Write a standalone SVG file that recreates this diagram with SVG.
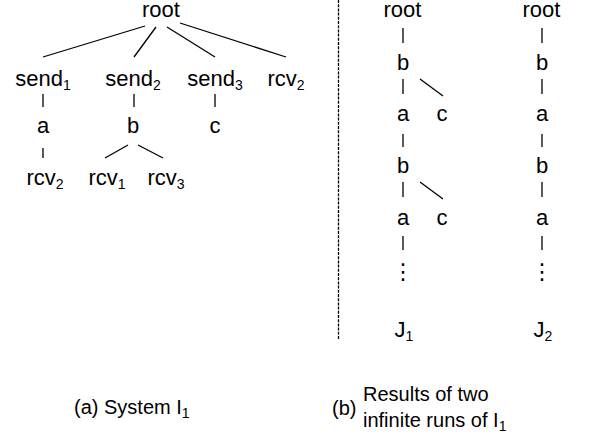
<svg xmlns="http://www.w3.org/2000/svg" width="589" height="434" viewBox="0 0 589 434">
<style>
text{font-family:"Liberation Sans",Arial,sans-serif;font-size:22px;fill:#000;text-anchor:middle}
.sub{font-size:14px}
.cap{font-size:20px;text-anchor:start}
.el{font-family:"DejaVu Sans",sans-serif}
line{stroke:#000;stroke-width:1.3}
</style>
<rect width="589" height="434" fill="#fff"/>
<g id="connectors">
<line x1="145" y1="26" x2="43" y2="57"/>
<line x1="156" y1="27" x2="134" y2="57"/>
<line x1="167" y1="27" x2="215" y2="57"/>
<line x1="180" y1="23" x2="286" y2="57"/>
<line x1="43" y1="94" x2="43" y2="107"/>
<line x1="134" y1="94" x2="134" y2="107"/>
<line x1="215" y1="94" x2="215" y2="107"/>
<line x1="43" y1="148" x2="43" y2="158"/>
<line x1="128" y1="145" x2="105" y2="158"/>
<line x1="138" y1="145" x2="163" y2="158"/>
<line x1="403" y1="28" x2="403" y2="43"/>
<line x1="403" y1="79" x2="403" y2="94"/>
<line x1="420" y1="79" x2="443" y2="96"/>
<line x1="403" y1="134" x2="403" y2="147"/>
<line x1="403" y1="182" x2="403" y2="197"/>
<line x1="420" y1="182" x2="443" y2="199"/>
<line x1="403" y1="236" x2="403" y2="250"/>
<line x1="542" y1="28" x2="542" y2="43"/>
<line x1="542" y1="79" x2="542" y2="94"/>
<line x1="542" y1="134" x2="542" y2="147"/>
<line x1="542" y1="182" x2="542" y2="197"/>
<line x1="542" y1="236" x2="542" y2="250"/>
<line x1="338.5" y1="0" x2="338.5" y2="340" stroke-dasharray="3 1.2"/>
</g>
<g id="a_root"><text x="161" y="17">root</text></g>
<g id="a_send1"><text x="43" y="86">send<tspan class="sub" dy="4">1</tspan></text></g>
<g id="a_send2"><text x="133" y="86">send<tspan class="sub" dy="4">2</tspan></text></g>
<g id="a_send3"><text x="215" y="86">send<tspan class="sub" dy="4">3</tspan></text></g>
<g id="a_rcv2"><text x="286" y="86">rcv<tspan class="sub" dy="4">2</tspan></text></g>
<g id="a_a"><text x="43" y="133">a</text></g>
<g id="a_b"><text x="133" y="133">b</text></g>
<g id="a_c"><text x="215" y="133">c</text></g>
<g id="a_rcv2b"><text x="45" y="185">rcv<tspan class="sub" dy="4">2</tspan></text></g>
<g id="a_rcv1"><text x="107" y="185">rcv<tspan class="sub" dy="4">1</tspan></text></g>
<g id="a_rcv3"><text x="166" y="185">rcv<tspan class="sub" dy="4">3</tspan></text></g>
<g id="j1_root"><text x="402.5" y="17">root</text></g>
<g id="j1_b1"><text x="403" y="70">b</text></g>
<g id="j1_a1"><text x="403" y="121">a</text></g>
<g id="j1_c1"><text x="442" y="121">c</text></g>
<g id="j1_b2"><text x="403" y="173">b</text></g>
<g id="j1_a2"><text x="403" y="225">a</text></g>
<g id="j1_c2"><text x="442" y="225">c</text></g>
<g id="j1_dots"><text class="el" x="403" y="279">⋮</text></g>
<g id="j1_label"><text x="404" y="337">J<tspan class="sub" dy="4">1</tspan></text></g>
<g id="j2_root"><text x="541.5" y="17">root</text></g>
<g id="j2_b1"><text x="542" y="70">b</text></g>
<g id="j2_a1"><text x="542" y="121">a</text></g>
<g id="j2_b2"><text x="542" y="173">b</text></g>
<g id="j2_a2"><text x="542" y="225">a</text></g>
<g id="j2_dots"><text class="el" x="542" y="279">⋮</text></g>
<g id="j2_label"><text x="543" y="337">J<tspan class="sub" dy="4">2</tspan></text></g>
<g id="cap_a"><text class="cap" x="74" y="414">(a) System I<tspan class="sub" dy="4">1</tspan></text></g>
<g id="cap_b"><text class="cap" x="332" y="415">(b)</text><text class="cap" x="363" y="401">Results of two</text><text class="cap" x="363" y="427">infinite runs of I<tspan class="sub" dy="4">1</tspan></text></g>
</svg>
